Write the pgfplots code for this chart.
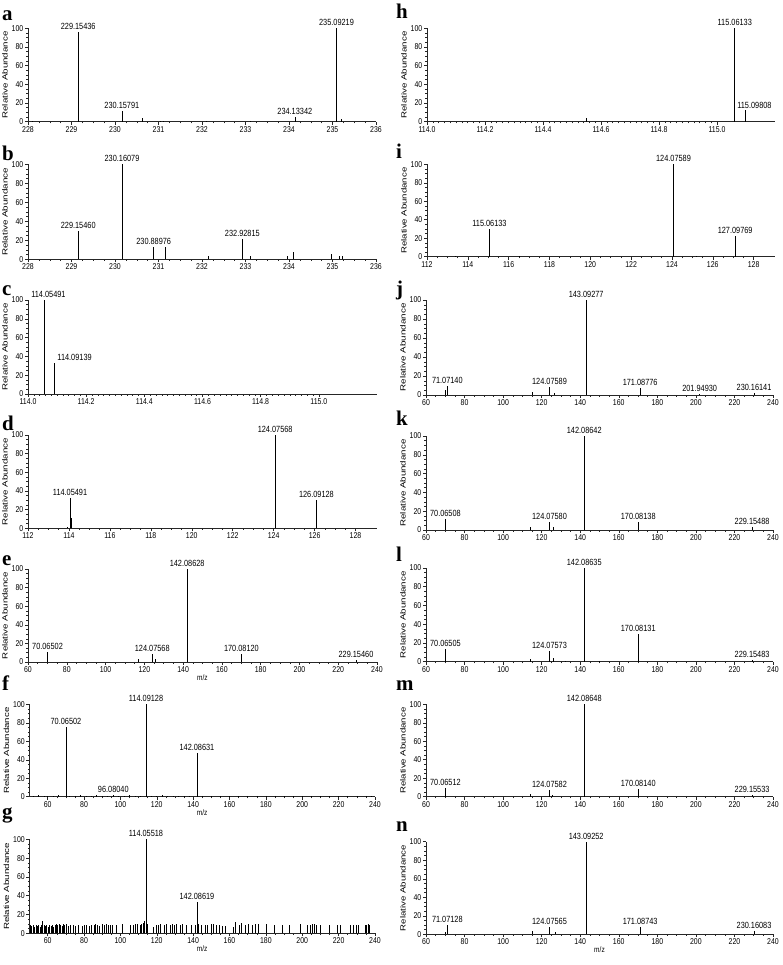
\documentclass[border=0pt]{standalone}
\usepackage{fontspec}
\setmainfont{Liberation Sans}
\newfontfamily\nar[FakeStretch=0.82]{Liberation Sans}
\newfontfamily\lserif{Liberation Serif}
\usepackage{pgfplots}
\pgfplotsset{compat=1.18}

\newcommand\RA[1]{\resizebox{#1bp}{\height}{\fontsize{7.5}{8}\selectfont Relative Abundance}}
\newcommand\pk[3]{\node[pkl] at (axis cs:#1,#2) {#3};}
\newcommand\lt[3]{\node[font=\lserif\fontsize{21}{21}\selectfont\bfseries, anchor=base west, inner sep=0pt] at (#1bp,-#2bp) {#3};}

\tikzset{
  pkl/.style={font=\nar\fontsize{9}{9}\selectfont, anchor=south, inner sep=1.2bp, yshift=1bp},
}
\pgfplotsset{
  ms/.style={scale only axis, anchor=south west,
    axis x line=bottom, axis y line=left,
    axis line style={-, black!85, line width=0.6bp},
    ymin=0, ymax=100, ytick={0,20,...,100}, minor y tick num=3, minor x tick num=3,
    tick align=outside, major tick length=3bp, minor tick length=1.6bp,
    every tick/.style={black!85, line width=0.5bp},
    tick label style={font=\nar\fontsize{8.5}{8.5}\selectfont, inner sep=1.5bp},
    /pgf/number format/assume math mode=true,
    clip=false,
    ylabel style={yshift=-1bp},
    xlabel style={font=\nar\fontsize{8}{8}\selectfont, yshift=3bp}},
  sp/.style={ycomb, black, line width=0.6bp, mark=none},
  fine/.style={xtick={114,114.2,114.4,114.6,114.8,115}, minor x tick num=9, xmin=114, xmax=115.2,
    xticklabel style={/pgf/number format/.cd, fixed, fixed zerofill, precision=1}},
  mz/.style={xtick={60,80,...,240}},
}

\begin{document}
\begin{tikzpicture}
\path[use as bounding box] (0,0) rectangle (783bp,-965bp);

% ---------- left column ----------
\begin{axis}[ms, at={(28bp,-121.7bp)}, width=348bp, height=93.4bp,
  xmin=228, xmax=236, xtick={228,...,236}, ylabel={\RA{87}}]
\addplot[sp] coordinates {(228.1,1)(229.15436,96)(230.15791,11)(230.62,4)(231.05,1)(231.12,1)
  (232.1,0.5)(233.1,0.5)(234.13342,5)(235.09219,100)(235.2,3)};
\pk{229.15436}{96}{229.15436}
\pk{230.15791}{11}{230.15791}
\pk{234.13342}{5}{234.13342}
\pk{235.09219}{100}{235.09219}
\end{axis}

\begin{axis}[ms, at={(28bp,-259.3bp)}, width=348bp, height=95bp,
  xmin=228, xmax=236, xtick={228,...,236}, ylabel={\RA{88}}]
\addplot[sp] coordinates {(229.15460,30)(230.16079,100)(230.88976,13)(231.15,13)(232.15,3)
  (232.92815,21)(233.1,3)(233.95,4)(234.1,8)(234.97,6)(235.15,4)(235.22,4)};
\pk{229.15460}{30}{229.15460}
\pk{230.16079}{100}{230.16079}
\pk{230.88976}{13}{230.88976}
\pk{232.92815}{21}{232.92815}
\end{axis}

\begin{axis}[ms, fine, at={(28bp,-394bp)}, width=349bp, height=94bp, ylabel={\RA{87}}]
\addplot[sp] coordinates {(114.05491,100)(114.09139,33)};
\node[pkl, xshift=4.5bp] at (axis cs:114.05491,100) {114.05491};
\node[pkl, anchor=south west, xshift=1.5bp] at (axis cs:114.09139,33) {114.09139};
\end{axis}

\begin{axis}[ms, at={(28bp,-528.3bp)}, width=349bp, height=93.3bp,
  xmin=112, xmax=129.05, xtick={112,114,...,128}, ylabel={\RA{87}}]
\addplot[sp] coordinates {(113.9,1.5)(114.05491,32)(114.1,11)(124.07568,100)(126.09128,30)};
\pk{114.05491}{32}{114.05491}
\pk{124.07568}{100}{124.07568}
\pk{126.09128}{30}{126.09128}
\end{axis}

\begin{axis}[ms, mz, at={(28bp,-662bp)}, width=349bp, height=93bp,
  xmin=60, xmax=240, xlabel={m/z}, ylabel={\RA{87}}]
\addplot[sp] coordinates {(70.06502,11)(117,3)(124.07568,9)(125.5,3)(142.08628,100)
  (170.08120,9)(229.15460,2)};
\pk{70.06502}{11}{70.06502}
\pk{124.07568}{9}{124.07568}
\pk{142.08628}{100}{142.08628}
\pk{170.08120}{9}{170.08120}
\pk{229.15460}{2}{229.15460}
\end{axis}

\begin{axis}[ms, mz, at={(29.5bp,-796.7bp)}, width=345.5bp, height=92.4bp,
  xmin=50, xmax=240, xlabel={m/z}, ylabel={\RA{86}}]
\addplot[sp] coordinates {(52,1)(55,1.5)(58,1)(60,1)(63,1)(66,1.5)(70.06502,75)(72,1)(75,1)
  (78,1.5)(81,1)(84,1)(87,1.5)(90,1)(93,1)(96.08040,2)(99,1)(102,1)(105,1.5)(108,1)(111,1)
  (114.09128,100)(117,1)(120,1)(123,1.5)(126,1)(129,1)(132,1)(135,1)(138,1)(142.08631,47)
  (145,1)(150,1)(155,1)(160,1)(165,1)(170,1)(175,1)(180,1)(185,1)(190,1)(195,1)(200,1)
  (205,1)(210,1)(215,1)(220,1)(225,1)(230,1)(235,1)(238,1)};
\pk{70.06502}{75}{70.06502}
\pk{96.08040}{2}{96.08040}
\pk{114.09128}{100}{114.09128}
\pk{142.08631}{47}{142.08631}
\end{axis}

\begin{axis}[ms, mz, at={(29.5bp,-933.3bp)}, width=345.5bp, height=94bp,
  xmin=50, xmax=240, xlabel={m/z}, ylabel={\RA{87}}]
\addplot[sp] coordinates {(50.5,9)(51.2,8)(52,9)(52.8,7)(53.5,9)(54.3,8)(55,9)(55.8,7)(56.5,9)
  (57.2,13)(58,9)(58.8,8)(59.5,9)(60.3,7)(61,9)(61.8,8)(62.5,9)(63.3,7)(64,9)(64.8,10)(65.5,9)
  (66.2,10)(67,9)(67.8,8)(68.5,10)(69.3,9)(70,10)(71.6,8)(72.5,9)(74,9)(75.2,8)(77,9)(79,8)
  (80,9)(81.2,9)(83,8)(84.2,9)(85.5,9)(86.3,10)(87.5,9)(88.5,8)(90.2,10)(91,9)(92.3,10)
  (93.2,9)(94.5,9)(95.7,9)(97.5,9)(101,10)(105.2,9)(107,9)(108.2,10)(109.3,10)(110.7,9)
  (111.6,10)(112.6,11)(113.3,13)(114.05518,100)(114.6,10)(118,7)(119.8,9)(121,9)(122.2,10)
  (124.2,9)(125.5,10)(127.3,9)(128.5,10)(129.8,9)(130.8,10)(132.8,9)(134,10)(136,9)(139,9)
  (141,9)(142.08619,33)(143,10)(144.7,9)(146.5,9)(148,9)(150,10)(151.2,10)(152.5,9)(154.5,9)
  (156.3,8)(157.6,8)(162.2,7)(163.2,12)(165.5,9)(166.6,11)(168.5,9)(170.2,10)(172.3,9)
  (174,10)(175.8,10)(180.3,10)(184.8,9)(188.8,9)(193,9)(198.7,10)(202.5,9)(204.2,9)
  (205.7,10)(206.6,10)(207.8,9)(209.8,9)(215,9)(219.2,9)(220.7,9)(226.3,9)(228,9)(229.6,9)
  (230.8,9)(234.6,9)(235.4,9)(236.3,10)(237,9)};
\pk{114.05518}{100}{114.05518}
\pk{142.08619}{33}{142.08619}
\end{axis}

% ---------- right column ----------
\begin{axis}[ms, fine, at={(427bp,-121.7bp)}, width=348bp, height=93.4bp, ylabel={\RA{87}}]
\addplot[sp] coordinates {(114.55,4)(115.06133,100)(115.09808,12)};
\pk{115.06133}{100}{115.06133}
\node[pkl, xshift=9bp] at (axis cs:115.09808,12) {115.09808};
\end{axis}

\begin{axis}[ms, at={(427bp,-256.7bp)}, width=348bp, height=92.4bp,
  xmin=112, xmax=129.05, xtick={112,114,...,128}, ylabel={\RA{86}}]
\addplot[sp] coordinates {(113.4,1)(115.06133,30)(116.5,0.5)(124.07589,100)(125.2,1)(127.09769,22)};
\pk{115.06133}{30}{115.06133}
\pk{124.07589}{100}{124.07589}
\pk{127.09769}{22}{127.09769}
\end{axis}

\begin{axis}[ms, mz, at={(426bp,-395bp)}, width=347bp, height=95bp,
  xmin=60, xmax=240, ylabel={\RA{88}}]
\addplot[sp] coordinates {(70.05,5)(71.07140,10)(115.05,3)(124.07589,8)(126.5,2)(143.09277,100)
  (171.08776,7)(201.94930,1)(230.16141,2.5)};
\pk{71.07140}{10}{71.07140}
\pk{124.07589}{8}{124.07589}
\pk{143.09277}{100}{143.09277}
\pk{171.08776}{7}{171.08776}
\pk{201.94930}{1}{201.94930}
\pk{230.16141}{2.5}{230.16141}
\end{axis}

\begin{axis}[ms, mz, at={(426bp,-530bp)}, width=347bp, height=94bp,
  xmin=60, xmax=240, ylabel={\RA{87}}]
\addplot[sp] coordinates {(70.06508,12)(114.05,3)(124.07580,9)(126,3)(142.08642,100)
  (170.08138,9)(229.15488,3)};
\pk{70.06508}{12}{70.06508}
\pk{124.07580}{9}{124.07580}
\pk{142.08642}{100}{142.08642}
\pk{170.08138}{9}{170.08138}
\pk{229.15488}{3}{229.15488}
\end{axis}

\begin{axis}[ms, mz, at={(426bp,-661.7bp)}, width=347bp, height=93.7bp,
  xmin=60, xmax=240, ylabel={\RA{87}}]
\addplot[sp] coordinates {(70.06505,14)(114.05,3)(124.07573,11)(126,4)(132,1)(142.08635,100)
  (150,0.5)(170.08131,30)(229.15483,2)};
\pk{70.06505}{14}{70.06505}
\pk{124.07573}{11}{124.07573}
\pk{142.08635}{100}{142.08635}
\pk{170.08131}{30}{170.08131}
\pk{229.15483}{2}{229.15483}
\end{axis}

\begin{axis}[ms, mz, at={(426bp,-796.7bp)}, width=347bp, height=92.4bp,
  xmin=60, xmax=240, ylabel={\RA{86}}]
\addplot[sp] coordinates {(70.06512,9)(114.05,3)(124.07582,7)(125.6,2)(142.08648,100)
  (170.08140,8)(229.15533,2)};
\pk{70.06512}{9}{70.06512}
\pk{124.07582}{7}{124.07582}
\pk{142.08648}{100}{142.08648}
\pk{170.08140}{8}{170.08140}
\pk{229.15533}{2}{229.15533}
\end{axis}

\begin{axis}[ms, mz, at={(426bp,-934.3bp)}, width=347bp, height=92.6bp,
  xmin=60, xmax=240, xlabel={m/z}, ylabel={\RA{86}}]
\addplot[sp] coordinates {(70.06,2)(71.07128,10)(115.05,4)(124.07565,8)(127.08,2)(143.09252,100)
  (171.08743,8)(230.16083,4)};
\pk{71.07128}{10}{71.07128}
\pk{124.07565}{8}{124.07565}
\pk{143.09252}{100}{143.09252}
\pk{171.08743}{8}{171.08743}
\pk{230.16083}{4}{230.16083}
\end{axis}

% ---------- panel letters ----------
\lt{2}{20}{a}
\lt{2}{160}{b}
\lt{2}{295}{c}
\lt{2}{430}{d}
\lt{2}{565}{e}
\lt{2}{690}{f}
\lt{2}{818}{g}
\lt{396}{18.3}{h}
\lt{396}{158}{i}
\lt{396}{295}{j}
\lt{396}{425}{k}
\lt{396}{561.7}{l}
\lt{396}{690}{m}
\lt{396}{831.7}{n}
\end{tikzpicture}
\end{document}
